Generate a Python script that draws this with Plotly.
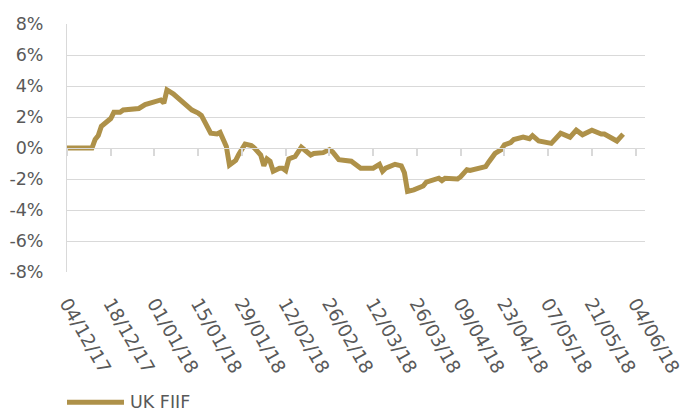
import plotly.graph_objects as go

dates = ["2017-12-04","2017-12-12","2017-12-13","2017-12-14","2017-12-15","2017-12-16","2017-12-18","2017-12-19",
         "2017-12-21","2017-12-22","2017-12-27","2017-12-29","2018-01-01","2018-01-03","2018-01-04","2018-01-05",
         "2018-01-07","2018-01-09","2018-01-11","2018-01-13","2018-01-15","2018-01-16","2018-01-19","2018-01-21",
         "2018-01-22","2018-01-24","2018-01-25","2018-01-27","2018-01-28","2018-01-30","2018-02-01","2018-02-02",
         "2018-02-04","2018-02-05","2018-02-06","2018-02-07","2018-02-08","2018-02-10","2018-02-11","2018-02-12",
         "2018-02-13","2018-02-15","2018-02-17","2018-02-20","2018-02-21","2018-02-24","2018-02-26","2018-02-27",
         "2018-03-01","2018-03-05","2018-03-08","2018-03-12","2018-03-14","2018-03-15","2018-03-16","2018-03-19",
         "2018-03-21","2018-03-22","2018-03-23","2018-03-25","2018-03-28","2018-03-29","2018-04-02","2018-04-03",
         "2018-04-04","2018-04-08","2018-04-09","2018-04-11","2018-04-12","2018-04-15","2018-04-17","2018-04-18",
         "2018-04-20","2018-04-22","2018-04-23","2018-04-25","2018-04-26","2018-04-29","2018-05-01","2018-05-02",
         "2018-05-04","2018-05-08","2018-05-11","2018-05-14","2018-05-16","2018-05-18","2018-05-21","2018-05-24",
         "2018-05-25","2018-05-29","2018-05-31"]
uk_fiif = [0.0,0.0,0.55,0.8,1.4,1.6,1.9,2.3,
           2.3,2.45,2.55,2.8,3.0,3.1,2.9,3.75,
           3.5,3.15,2.7,2.45,2.25,2.1,0.95,0.9,
           1.0,0.1,-1.1,-0.8,-0.4,0.25,0.15,0.0,
           -0.45,-1.15,-0.7,-0.85,-1.5,-1.3,-1.3,-1.45,
           -0.7,-0.55,0.05,-0.45,-0.35,-0.3,-0.1,-0.25,
           -0.75,-0.85,-1.3,-1.3,-1.05,-1.5,-1.3,-1.05,
           -1.15,-1.6,-2.8,-2.7,-2.45,-2.2,-1.95,-2.1,
           -1.95,-2.0,-1.85,-1.4,-1.45,-1.3,-1.2,-0.9,
           -0.35,-0.1,0.2,0.35,0.55,0.7,0.6,0.8,
           0.45,0.3,0.95,0.7,1.15,0.85,1.15,0.9,
           0.9,0.45,0.9]

x_tickvals = ["2017-12-04","2017-12-18","2018-01-01","2018-01-15","2018-01-29","2018-02-12","2018-02-26",
              "2018-03-12","2018-03-26","2018-04-09","2018-04-23","2018-05-07","2018-05-21","2018-06-04"]
x_ticktext = ["04/12/17","18/12/17","01/01/18","15/01/18","29/01/18","12/02/18","26/02/18",
              "12/03/18","26/03/18","09/04/18","23/04/18","07/05/18","21/05/18","04/06/18"]
y_tickvals = [-8, -6, -4, -2, 0, 2, 4, 6, 8]
y_ticktext = ["-8%", "-6%", "-4%", "-2%", "0%", "2%", "4%", "6%", "8%"]
series_name = "UK FIIF"

GOLD = "#AE9149"
GRID = "#D9D9D9"
TXT = "#595959"
FONT = "DejaVu Sans"
xrange = ["2017-12-04", "2018-06-07"]

fig = go.Figure()
fig.add_trace(go.Scatter(x=dates, y=uk_fiif, mode="lines", name=series_name, showlegend=False,
                         line=dict(color=GOLD, width=5, shape="linear")))
# invisible trace to activate x2 (ticks at the zero line)
fig.add_trace(go.Scatter(x=[x_tickvals[0]], y=[0], xaxis="x2", mode="markers",
                         marker=dict(opacity=0), showlegend=False, hoverinfo="skip"))

# legend drawn by hand (longer line sample like the original)
fig.add_shape(type="line", xref="paper", yref="paper", x0=0.0, x1=0.0986, y0=-0.525, y1=-0.525,
              line=dict(color=GOLD, width=5))
fig.add_annotation(text=series_name, xref="paper", yref="paper", x=0.1055, y=-0.523,
                   xanchor="left", yanchor="middle", showarrow=False,
                   font=dict(size=17.5, color=TXT, family=FONT))

# the page body has an 8px margin, so the figure is 8px smaller and left/top margins 8px tighter
fig.update_layout(
    width=682, height=403,
    margin=dict(l=59, r=45, t=16, b=139),
    paper_bgcolor="white", plot_bgcolor="white",
    font=dict(family=FONT, color=TXT, size=17.5),
    showlegend=False,
    xaxis=dict(type="date", range=xrange, tickvals=x_tickvals, ticktext=x_ticktext,
               tickangle=60, showgrid=False, zeroline=False, showline=False, ticks="",
               automargin=False, ticklabelstandoff=16,
               tickfont=dict(size=18.5, color=TXT, family=FONT)),
    xaxis2=dict(type="date", range=xrange, tickvals=x_tickvals, overlaying="x",
                anchor="free", position=0.5, side="bottom", showticklabels=False,
                ticks="outside", ticklen=7, tickwidth=1.5, tickcolor=GRID, automargin=False,
                showline=True, linecolor=GRID, linewidth=1, showgrid=False, zeroline=False),
    yaxis=dict(range=[-8, 8], tickvals=y_tickvals, ticktext=y_ticktext,
               showgrid=True, gridcolor=GRID, gridwidth=1, zeroline=False,
               showline=True, linecolor=GRID, linewidth=1, ticks="", automargin=False,
               ticklabelstandoff=19,
               tickfont=dict(size=17.5, color=TXT, family=FONT)),
)

fig.write_html("out.html")
